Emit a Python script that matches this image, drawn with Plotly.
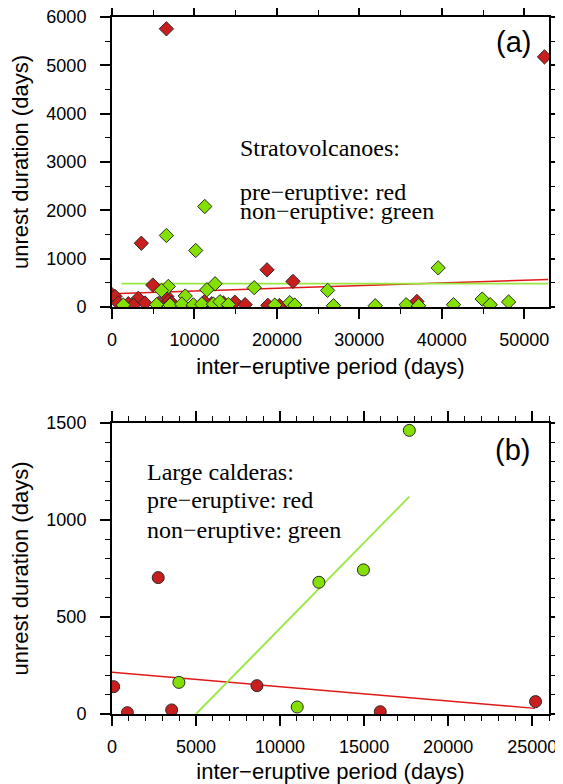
import plotly.graph_objects as go

# ---------------- Panel (a): Stratovolcanoes ----------------
strato_pre_x = [6600, 52450, 3560, 18800, 21950, 4950, 0, 360, 770, 1980, 3190, 4000,
                6640, 6830, 7240, 12100, 13510, 14900, 16140, 36980, 18900, 2600,
                5600, 11200, 21800, 20300]
strato_pre_y = [5755, 5175, 1320, 770, 530, 455, 255, 220, 85, 68, 180, 83,
                219, 116, 83, 68, 83, 100, 50, 116, 35, 40,
                70, 110, 40, 30]

strato_non_x = [11250, 6600, 10150, 39560, 12500, 6830, 17250, 11500, 6000, 26150,
                8880, 44900, 48100, 1370, 5420, 7040, 8460, 9870, 10890, 12300,
                13100, 14120, 19740, 21560, 22170, 26860, 31920, 35680, 37180,
                41420, 45870]
strato_non_y = [2080, 1480, 1170, 810, 481, 426, 400, 357, 343, 344,
                228, 165, 105, 40, 50, 40, 60, 45, 60, 60,
                110, 50, 40, 90, 40, 27, 27, 48, 27,
                48, 48]

strato_pre_fit_x = [0, 52900]
strato_pre_fit_y = [275, 570]
strato_non_fit_x = [1150, 52900]
strato_non_fit_y = [482, 482]

# ---------------- Panel (b): Large calderas ----------------
caldera_pre_x = [100, 916, 2750, 3550, 8625, 15960, 25200]
caldera_pre_y = [141, 7, 703, 21, 146, 12, 64]
caldera_non_x = [17690, 12310, 14960, 3980, 11020]
caldera_non_y = [1462, 679, 743, 163, 36]

caldera_pre_fit_x = [0, 25160]
caldera_pre_fit_y = [215, 29]
caldera_non_fit_x = [5000, 17690]
caldera_non_fit_y = [0, 1121]

RED = "#C81E1E"
GREEN = "#84E000"
RED_LINE = "#E01818"
GREEN_LINE = "#98E840"
EDGE = "#2a2a2a"

fig = go.Figure()

# panel a
fig.add_trace(go.Scatter(x=strato_pre_fit_x, y=strato_pre_fit_y, mode="lines",
                         line=dict(color=RED_LINE, width=1.5), xaxis="x", yaxis="y"))
fig.add_trace(go.Scatter(x=strato_non_fit_x, y=strato_non_fit_y, mode="lines",
                         line=dict(color=GREEN_LINE, width=1.8), xaxis="x", yaxis="y"))
fig.add_trace(go.Scatter(x=strato_pre_x, y=strato_pre_y, mode="markers",
                         marker=dict(symbol="diamond", size=11, color=RED,
                                     line=dict(color=EDGE, width=1)),
                         xaxis="x", yaxis="y"))
fig.add_trace(go.Scatter(x=strato_non_x, y=strato_non_y, mode="markers",
                         marker=dict(symbol="diamond", size=11, color=GREEN,
                                     line=dict(color=EDGE, width=1)),
                         xaxis="x", yaxis="y"))

# panel b
fig.add_trace(go.Scatter(x=caldera_pre_fit_x, y=caldera_pre_fit_y, mode="lines",
                         line=dict(color=RED_LINE, width=1.5), xaxis="x2", yaxis="y2"))
fig.add_trace(go.Scatter(x=caldera_non_fit_x, y=caldera_non_fit_y, mode="lines",
                         line=dict(color=GREEN_LINE, width=1.8), xaxis="x2", yaxis="y2"))
fig.add_trace(go.Scatter(x=caldera_pre_x, y=caldera_pre_y, mode="markers",
                         marker=dict(symbol="circle", size=12, color=RED,
                                     line=dict(color=EDGE, width=1)),
                         xaxis="x2", yaxis="y2"))
fig.add_trace(go.Scatter(x=caldera_non_x, y=caldera_non_y, mode="markers",
                         marker=dict(symbol="circle", size=12, color=GREEN,
                                     line=dict(color=EDGE, width=1)),
                         xaxis="x2", yaxis="y2"))

tickfont = dict(family="Liberation Sans, Arial, sans-serif", size=18, color="black")
titlefont = dict(family="Liberation Sans, Arial, sans-serif", size=22, color="black")


def ax(rng, dtick, minor_dtick, title, standoff, lblstandoff, anchor, domain=None):
    d = dict(range=rng, dtick=dtick, tick0=0, tickformat="d", showgrid=False, zeroline=False,
             showline=True, linecolor="black", linewidth=2, mirror="allticks",
             ticks="outside", ticklen=10, tickwidth=1.5, tickcolor="black",
             tickfont=tickfont, ticklabelstandoff=lblstandoff, ticklabeloverflow="allow",
             automargin=False,
             minor=dict(dtick=minor_dtick, tick0=0, ticks="outside", ticklen=5,
                        tickwidth=1.2, tickcolor="black", showgrid=False),
             title=dict(text=title, font=titlefont, standoff=standoff),
             anchor=anchor)
    if domain is not None:
        d["domain"] = domain
    return d


fig.update_layout(
    width=555, height=776,
    margin=dict(l=104, r=14, t=9, b=70, autoexpand=False),
    paper_bgcolor="white", plot_bgcolor="white",
    showlegend=False,
)
fig.update_layout(
    xaxis=ax([0, 53000], 10000, 5000, "inter\u2212eruptive period (days)", 10, 5, "y"),
    yaxis=ax([0, 6000], 1000, 500, "unrest duration (days)", 13, 10, "x", [0.5839, 1.0]),
    xaxis2=ax([0, 26000], 5000, 1000, "inter\u2212eruptive period (days)", 10, 5, "y2"),
    yaxis2=ax([0, 1500], 500, 100, "unrest duration (days)", 13, 10, "x2", [0.0, 0.4175]),
)

serif = dict(family="Liberation Serif, Times New Roman, serif", size=24, color="black")
label_font = dict(family="Liberation Sans, Arial, sans-serif", size=29, color="black")

annots = [
    dict(text="(a)", xref="x domain", yref="y domain", x=0.918, y=0.915,
         xanchor="center", yanchor="middle", font=label_font),
    dict(text="Stratovolcanoes:", xref="x domain", yref="y domain", x=0.288, y=0.548,
         xanchor="left", yanchor="middle", font=serif),
    dict(text="pre\u2212eruptive: red", xref="x domain", yref="y domain", x=0.288, y=0.397,
         xanchor="left", yanchor="middle", font=serif),
    dict(text="non\u2212eruptive: green", xref="x domain", yref="y domain", x=0.288, y=0.330,
         xanchor="left", yanchor="middle", font=serif),
    dict(text="(b)", xref="x2 domain", yref="y2 domain", x=0.917, y=0.907,
         xanchor="center", yanchor="middle", font=label_font),
    dict(text="Large calderas:", xref="x2 domain", yref="y2 domain", x=0.0755, y=0.833,
         xanchor="left", yanchor="middle", font=serif),
    dict(text="pre\u2212eruptive: red", xref="x2 domain", yref="y2 domain", x=0.0755, y=0.735,
         xanchor="left", yanchor="middle", font=serif),
    dict(text="non\u2212eruptive: green", xref="x2 domain", yref="y2 domain", x=0.0755, y=0.632,
         xanchor="left", yanchor="middle", font=serif),
]
for a in annots:
    a["showarrow"] = False
fig.update_layout(annotations=annots)

fig.write_html("out.html")
